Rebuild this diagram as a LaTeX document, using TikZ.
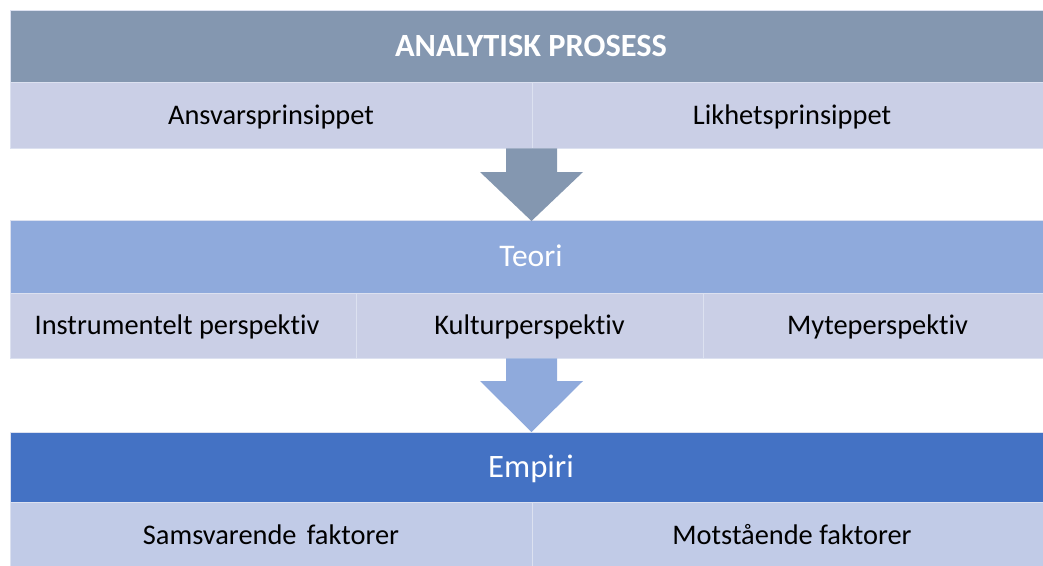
\documentclass[tikz,border=0pt]{standalone}
\usepackage{fontspec}
\setmainfont{Carlito}[Ligatures={NoCommon,NoRare,NoContextual}]
\definecolor{headgrey}{HTML}{8497B0}
\definecolor{rowpale}{HTML}{CACFE6}
\definecolor{teoriblue}{HTML}{8FAADC}
\definecolor{empiriblue}{HTML}{4472C4}
\definecolor{rowpale3}{HTML}{C1CBE7}
\definecolor{seam}{HTML}{DCE1F0}
\tikzset{
  band/.style={draw=seam, line width=0.7pt, inner sep=0pt, text=white,
    font=\fontsize{32}{38}\selectfont, text height=28.6pt, text depth=8pt},
  cell/.style={draw=seam, line width=0.7pt, inner sep=0pt, fill=rowpale, text=black,
    font=\fontsize{28.4}{34}\selectfont, text height=25.3pt, text depth=7pt}
}
\begin{document}
\begin{tikzpicture}[x=1pt,y=-1pt]
\useasboundingbox (0,0) rectangle (1043,565);
\clip (0,0) rectangle (1043,565);

% level 1: analytic process
\node[band, fill=headgrey, minimum width=1042pt, minimum height=72pt,
  font=\fontsize{32.4}{38}\selectfont\bfseries, text height=28.9pt, text depth=8pt]
  (hdr) at (531,46) {ANALYTISK PROSESS};
\node[cell, minimum width=522pt, minimum height=66pt] (ansvar) at (271,115) {Ansvarsprinsippet};
\node[cell, minimum width=520pt, minimum height=66pt] (likhet) at (792,115) {Likhetsprinsippet};

% level 2: theory
\node[band, fill=teoriblue, minimum width=1042pt, minimum height=73pt,
  font=\fontsize{31.5}{38}\selectfont, text height=28.3pt, text depth=8pt]
  (teori) at (531,256.5) {Teori};
\node[cell, minimum width=346pt, minimum height=65pt] (instr) at (183,325.5) {Instrumentelt perspektiv\hspace*{12pt}};
\node[cell, minimum width=347pt, minimum height=65pt] (kultur) at (529.5,325.5) {Kulturperspektiv};
\node[cell, minimum width=349pt, minimum height=65pt] (myte) at (877.5,325.5) {Myteperspektiv};

% level 3: empirical
\node[band, fill=empiriblue, minimum width=1042pt, minimum height=70pt,
  font=\fontsize{32.7}{38}\selectfont, text height=29.1pt, text depth=8pt]
  (empiri) at (531,467) {Empiri};
\node[cell, fill=rowpale3, minimum width=522pt, minimum height=66pt] (samsvar) at (271,535) {Samsvarende\hspace{0.36em}faktorer};
\node[cell, fill=rowpale3, minimum width=520pt, minimum height=66pt] (motstaa) at (792,535) {Motstående faktorer};

% block arrows between the levels
\fill[headgrey] (506,148.4) -- (557,148.4) -- (557,172) -- (583,172) -- (531.5,221) -- (480,172) -- (506,172) -- cycle;
\fill[teoriblue] (506,358.4) -- (557,358.4) -- (557,381) -- (583,381) -- (531.5,432) -- (480,381) -- (506,381) -- cycle;
\end{tikzpicture}
\end{document}
